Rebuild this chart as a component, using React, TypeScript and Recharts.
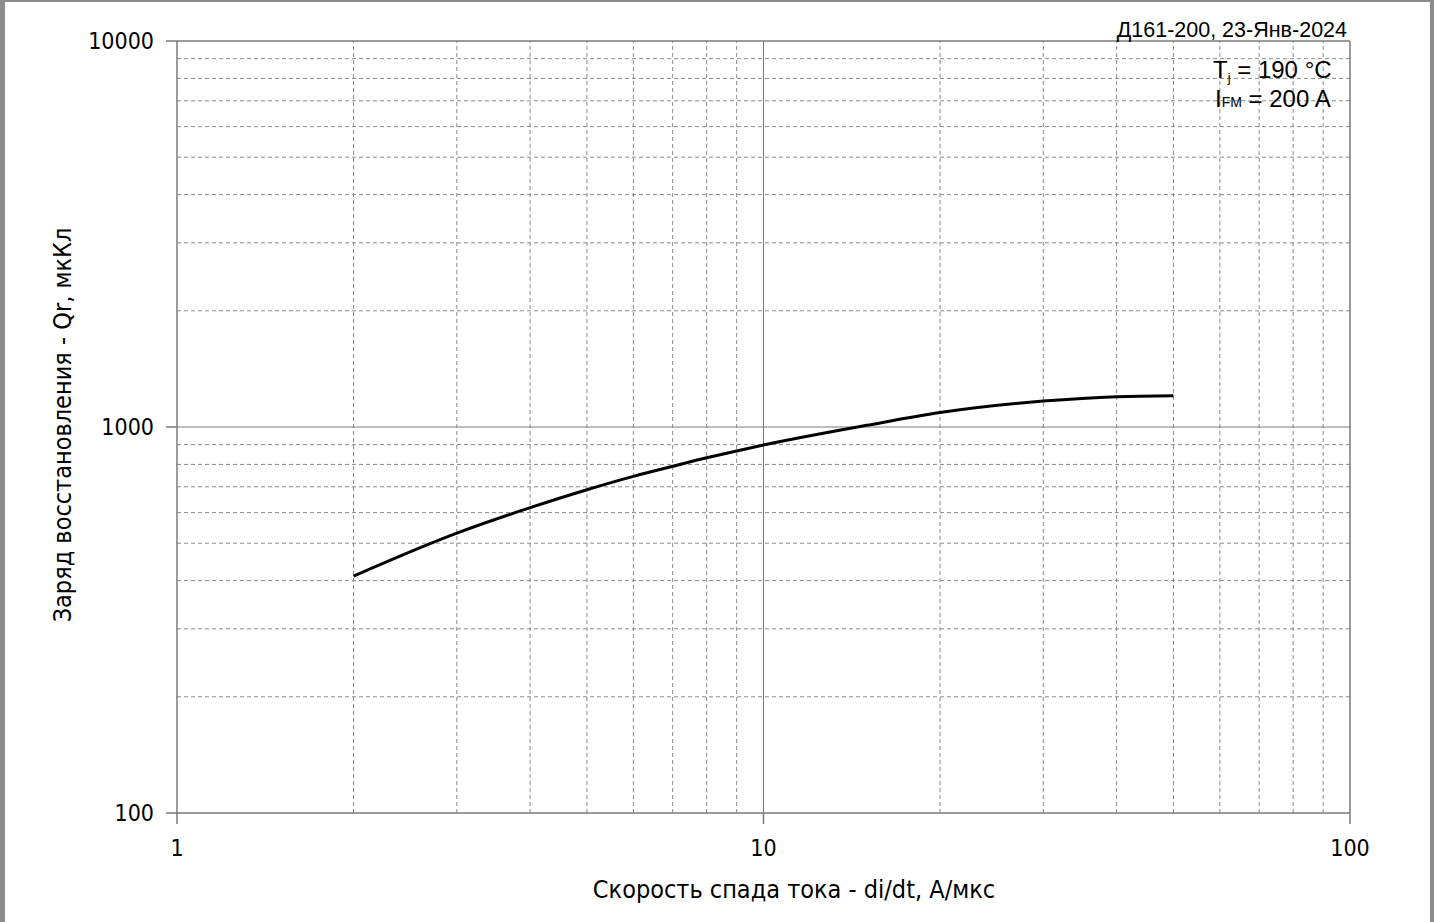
import React from "react";
import { LineChart, Line, XAxis, YAxis, ReferenceLine } from "recharts";

const diDt = [2, 3, 4, 5, 6, 7, 8, 9, 10, 15, 20, 30, 40, 50];
const qr = [411, 531, 618, 688, 745, 791, 832, 867, 898, 1010, 1090, 1167, 1198, 1205];
const xTicks = [1, 10, 100];
const yTicks = [100, 1000, 10000];
const xMinor = [2, 3, 4, 5, 6, 7, 8, 9, 20, 30, 40, 50, 60, 70, 80, 90];
const xMajor = [10];
const yMinor = [200, 300, 400, 500, 600, 700, 800, 900, 2000, 3000, 4000, 5000, 6000, 7000, 8000, 9000];
const yMajor = [1000];

const xTitle = "Скорость спада тока - di/dt, А/мкс";
const yTitle = "Заряд восстановления - Qr, мкКл";
const stamp = "Д161-200, 23-Янв-2024";

const data = diDt.map((x, i) => ({ x, q: qr[i] }));

const GRID = "#8a8a8a";
const AXIS = "#7a7a7a";
const tickFont = { fontFamily: "DejaVu Sans Condensed", fontSize: 23, fill: "#000" };

export default function App() {
  return (
    <div
      style={{
        position: "absolute",
        left: 0,
        top: 0,
        width: 1434,
        height: 922,
        background: "#fff",
        boxSizing: "border-box",
        borderLeft: "5px solid #8c8c8c",
        borderTop: "2px solid #8c8c8c",
        borderRight: "4px solid #8c8c8c",
      }}
    >
      <div style={{ position: "absolute", left: -5, top: -2 }}>
        <LineChart
          width={1434}
          height={922}
          data={data}
          margin={{ top: 41, right: 84, bottom: 49, left: 97 }}
        >
          {xMinor.map((v) => (
            <ReferenceLine key={"xm" + v} x={v} stroke={GRID} strokeDasharray="4 3" strokeWidth={1} />
          ))}
          {yMinor.map((v) => (
            <ReferenceLine key={"ym" + v} y={v} stroke={GRID} strokeDasharray="4 3" strokeWidth={1} />
          ))}
          {xMajor.map((v) => (
            <ReferenceLine key={"xM" + v} x={v} stroke={AXIS} strokeWidth={1} />
          ))}
          {yMajor.map((v) => (
            <ReferenceLine key={"yM" + v} y={v} stroke={AXIS} strokeWidth={1} />
          ))}
          <ReferenceLine x={100} stroke={AXIS} strokeWidth={1.5} />
          <ReferenceLine y={10000} stroke={AXIS} strokeWidth={1.5} />
          <XAxis
            dataKey="x"
            type="number"
            scale="log"
            domain={[1, 100]}
            ticks={xTicks}
            allowDataOverflow
            height={60}
            tickSize={11}
            tickMargin={16}
            stroke={AXIS}
            strokeWidth={1.5}
            tick={tickFont}
            tickFormatter={(v) => String(v)}
          />
          <YAxis
            type="number"
            scale="log"
            domain={[100, 10000]}
            ticks={yTicks}
            allowDataOverflow
            width={80}
            tickSize={11}
            tickMargin={12}
            stroke={AXIS}
            strokeWidth={1.5}
            tick={tickFont}
            tickFormatter={(v) => String(v)}
          />
          <Line
            dataKey="q"
            type="monotone"
            stroke="#000"
            strokeWidth={3}
            dot={false}
            isAnimationActive={false}
          />
        </LineChart>
      </div>
      <svg
        width={1434}
        height={922}
        style={{ position: "absolute", left: -5, top: -2, pointerEvents: "none" }}
      >
        <text
          x={794}
          y={898}
          textAnchor="middle"
          fontFamily="DejaVu Sans Condensed"
          fontSize={25}
          fill="#000"
        >
          {xTitle}
        </text>
        <text
          x={71}
          y={425}
          textAnchor="middle"
          transform="rotate(-90 71 425)"
          fontFamily="DejaVu Sans Condensed"
          fontSize={25}
          fill="#000"
        >
          {yTitle}
        </text>
        <text
          x={1347}
          y={37}
          textAnchor="end"
          fontFamily="Liberation Sans"
          fontSize={21.5}
          fill="#000"
        >
          {stamp}
        </text>
        <text x={1213} y={78} fontFamily="Liberation Sans" fontSize={24} fill="#000">
          T<tspan fontSize={13} dy={4}>j</tspan>
          <tspan dy={-4}> = 190 °C</tspan>
        </text>
        <text x={1215} y={107} fontFamily="Liberation Sans" fontSize={24} fill="#000">
          I<tspan fontSize={14}>FM</tspan> = 200 A
        </text>
      </svg>
    </div>
  );
}
